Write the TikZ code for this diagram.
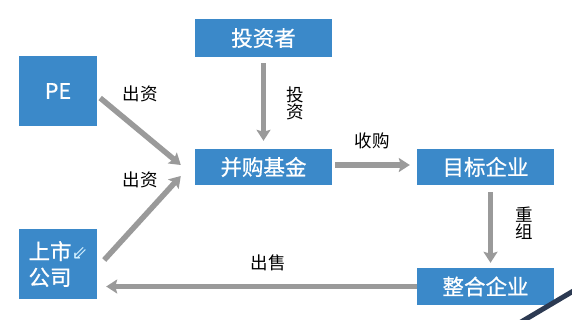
\documentclass[tikz,border=0pt]{standalone}
\usepackage{fontspec}
\setmainfont{Noto Sans CJK SC}
\newfontfamily\boxfont[FakeBold=0.6]{Noto Sans CJK SC}
\newfontfamily\symfont{DejaVu Sans}
\usetikzlibrary{arrows.meta,positioning}

\definecolor{boxblue}{HTML}{3B89C9}
\definecolor{arrowgray}{HTML}{9A9A9A}
\definecolor{stripe}{HTML}{2C3A52}
\definecolor{glyphcyan}{HTML}{D2F0FF}

\begin{document}
\begin{tikzpicture}[
      x=1pt,
      y=-1pt,
      box/.style={fill=boxblue, text=white, align=center, inner sep=0pt, font=\boxfont\fontsize{21.5}{25}\selectfont},
      lbl/.style={text=black, align=center, inner sep=0pt, font=\fontsize{17.5}{20}\selectfont},
      arrow/.style={-{Stealth[length=11pt,width=14pt,inset=2pt]}, line width=5.5pt, draw=arrowgray}
  ]
  \useasboundingbox (0,0) rectangle (572,319);

  % Boxes (pixel grid of the slide, y down)
  \node[box, minimum width=137, minimum height=38] (investor) at (263.5,38)  {投资者};
  \node[box, minimum width=78,  minimum height=70] (pe)       at (58,91)     {PE};
  \node[box, minimum width=137, minimum height=36] (fund)     at (263.5,167) {并购基金};
  \node[box, minimum width=137, minimum height=36] (target)   at (485.5,167) {目标企业};
  \node[box, minimum width=78,  minimum height=70] (listed)   at (58,264)
    {上市{\symfont\color{glyphcyan}\fontsize{19}{19}\selectfont ⇙}\\[1pt]公司{\symfont\fontsize{19}{19}\selectfont\hphantom{⇙}}};
  \node[box, minimum width=137, minimum height=37] (merged)   at (485.5,286.5) {整合企业};

  % --- Arrows ---
  \draw[arrow, shorten <=6, shorten >=8] (investor) -- (fund);
  \draw[arrow] ([shift={(3,7)}]pe.east) -- ([shift={(-14,-2)}]fund.west);
  \draw[arrow] ([shift={(7,-4)}]listed.east) -- ([shift={(-14,9)}]fund.west);
  \draw[arrow, shorten <=3, shorten >=7] ([yshift=2]fund.east) -- ([yshift=2]target.west);
  \draw[arrow, shorten <=7, shorten >=5] ([xshift=5]target.south) -- ([xshift=5]merged.north);
  \draw[arrow, shorten >=9] (merged.west) -- (merged.west -| listed.east);

  % Labels
  \node[lbl] (l1) at (140,94)  {出资};
  \node[lbl] (l2) at (140,180) {出资};
  \node[lbl] (l3) at (295,103) {投\\[-3pt]资};
  \node[lbl] (l4) at (372,141) {收购};
  \node[lbl] (l5) at (524,223) {重\\[-3pt]组};
  \node[lbl] (l6) at (268,263) {出售};

  % slide decoration
  \draw[stripe, line width=5pt] (521,322) -- (575,290);
\end{tikzpicture}
\end{document}
